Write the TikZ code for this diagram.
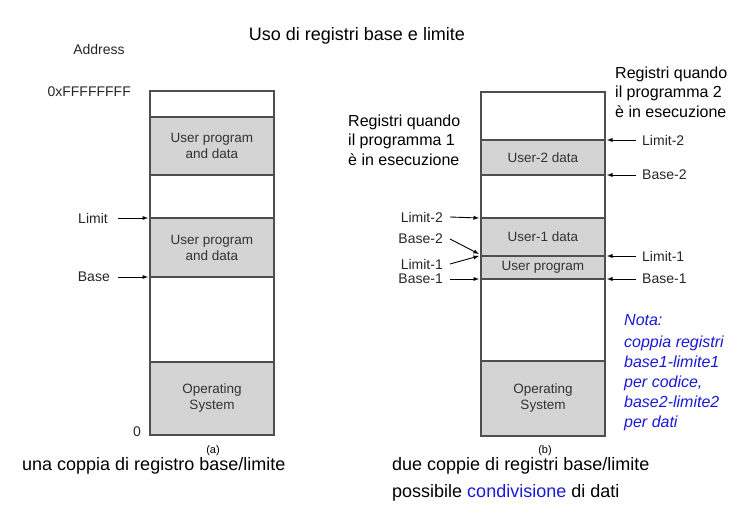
\documentclass[tikz,border=0pt]{standalone}
\usepackage{fontspec}
\setmainfont{Liberation Sans}
\usetikzlibrary{positioning,arrows}
\definecolor{memgray}{RGB}{212,212,212}
\definecolor{memline}{RGB}{78,78,78}
\definecolor{notablue}{RGB}{25,25,215}

\begin{document}
\begin{tikzpicture}[x=1pt,y=-1pt,
    seg/.style={
        rectangle, draw=memline,
        line width=1.1pt,
        minimum width=124pt,
        inner sep=0pt, outer sep=0pt,
        align=center, text=black!80,
        font=\fontsize{13.5}{16}\selectfont
    },
    used/.style={seg, fill=memgray},
    lbl/.style={font=\fontsize{14}{16}\selectfont, inner sep=1pt, text=black!85},
    big/.style={font=\fontsize{18}{22}\selectfont, inner sep=0pt},
    note/.style={font=\fontsize{16}{19.5}\selectfont, align=left, inner sep=0pt},
    arr/.style={-latex, line width=0.9pt}
]
\useasboundingbox (0,0) rectangle (745,521);

\node[big] (title) at (357,36) {Uso di registri base e limite};

% (a) one base/limit pair
\node[seg, minimum height=26pt, anchor=north west] (a1) at (150,91) {};
\node[used, minimum height=58pt, below=0pt of a1] (a2) {User program\\and data};
\node[seg, minimum height=43pt, below=0pt of a2] (a3) {};
\node[used, minimum height=59pt, below=0pt of a3] (a4) {User program\\and data};
\node[seg, minimum height=85pt, below=0pt of a4] (a5) {};
\node[used, minimum height=73pt, below=0pt of a5] (a6) {Operating\\System};

\node[lbl] (addr) at (99,49) {Address};
\node[lbl, anchor=east] (top) at (132,92) {0xFFFFFFFF};
\node[lbl, anchor=east] (limit) at (109,218) {Limit};
\node[lbl, anchor=east] (base) at (111,277) {Base};
\node[lbl] (zero) at (137,432) {0};
\draw[arr] ([xshift=9pt]limit.east) -- ([xshift=-2pt]a4.north west);
\draw[arr] ([xshift=7pt]base.east) -- ([xshift=-2pt]a5.north west);
\node[font=\rmfamily\fontsize{11}{12}\selectfont, inner sep=0pt] (capa) at (213,451) {(a)};

% (b) two base/limit pairs
\node[seg, minimum height=48pt, anchor=north west] (b1) at (481,92) {};
\node[used, minimum height=35pt, below=0pt of b1] (b2) {User-2 data};
\node[seg, minimum height=43pt, below=0pt of b2] (b3) {};
\node[used, minimum height=38pt, below=0pt of b3] (b4) {User-1 data};
\node[used, minimum height=23pt, below=0pt of b4] (b5) {User program};
\node[seg, minimum height=82pt, below=0pt of b5] (b6) {};
\node[used, minimum height=75pt, below=0pt of b6] (b7) {Operating\\System};

% registers, program 2
\node[lbl, anchor=west] (lim2r) at (641,140) {Limit-2};
\node[lbl, anchor=west] (base2r) at (641,175) {Base-2};
\node[lbl, anchor=west] (lim1r) at (641,256) {Limit-1};
\node[lbl, anchor=west] (base1r) at (641,279) {Base-1};
\draw[arr] ([xshift=-5pt]lim2r.west) -- ([xshift=2pt]b2.north east);
\draw[arr] ([xshift=-5pt]base2r.west) -- ([xshift=2pt]b3.north east);
\draw[arr] ([xshift=-5pt]lim1r.west) -- ([xshift=2pt]b5.north east);
\draw[arr] ([xshift=-5pt]base1r.west) -- ([xshift=2pt]b6.north east);

% registers, program 1
\node[lbl, anchor=east] (lim2l) at (444,217) {Limit-2};
\node[lbl, anchor=east] (base2l) at (444,239) {Base-2};
\node[lbl, anchor=east] (lim1l) at (444,264) {Limit-1};
\node[lbl, anchor=east] (base1l) at (444,279) {Base-1};
\draw[arr] ([xshift=6pt]lim2l.east) -- ([xshift=-2pt]b4.north west);
\draw[arr] ([xshift=6pt]base2l.east) -- ([xshift=-2pt,yshift=2pt]b5.north west);
\draw[arr] ([xshift=6pt]lim1l.east) -- ([xshift=-2pt]b5.north west);
\draw[arr] ([xshift=6pt]base1l.east) -- ([xshift=-2pt]b6.north west);
\node[font=\rmfamily\fontsize{11}{12}\selectfont, inner sep=0pt] (capb) at (545,451) {(b)};

\node[note, anchor=west] (run1) at (348,140) {Registri quando\\il programma 1\\è in esecuzione};
\node[note, anchor=west] (run2) at (615,92) {Registri quando\\il programma 2\\è in esecuzione};

\node[note, anchor=north west, text=notablue, font=\itshape\fontsize{16}{20}\selectfont] (nota) at (624,314)
    {Nota:\\[2pt]coppia registri\\base1-limite1\\per codice,\\base2-limite2\\per dati};

% captions
\node[big, anchor=west] (texta) at (22,466) {una coppia di registro base/limite};
\node[big, anchor=west] (textb) at (392,466) {due coppie di registri base/limite};
\node[big, anchor=west] (textc) at (392,493) {possibile \textcolor{notablue}{condivisione} di dati};
\end{tikzpicture}
\end{document}
